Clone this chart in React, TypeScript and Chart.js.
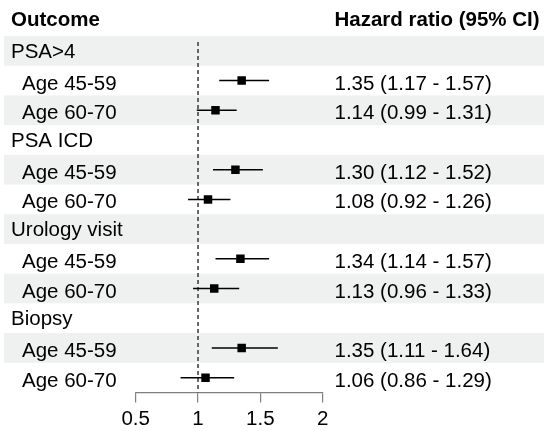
import { useEffect, useRef } from 'react';
import { Chart, registerables } from 'chart.js';
Chart.register(...registerables);

const headers = ['Outcome', 'Hazard ratio (95% CI)'];
const groups = ['PSA>4', 'PSA ICD', 'Urology visit', 'Biopsy'];
const subgroups = ['Age 45-59', 'Age 60-70'];
const hr = [1.35, 1.14, 1.30, 1.08, 1.34, 1.13, 1.35, 1.06];
const lower = [1.17, 0.99, 1.12, 0.92, 1.14, 0.96, 1.11, 0.86];
const upper = [1.57, 1.31, 1.52, 1.26, 1.57, 1.33, 1.64, 1.29];
const xTicks = [0.5, 1, 1.5, 2];
const xTickLabels = ['0.5', '1', '1.5', '2'];

const FONT = '"Liberation Sans", Arial, Helvetica, sans-serif';

type Row = { label: string; kind: 'group' | 'sub'; k: number };
const rows: Row[] = [];
groups.forEach((g, gi) => {
  rows.push({ label: g, kind: 'group', k: -1 });
  subgroups.forEach((s, si) => rows.push({ label: s, kind: 'sub', k: gi * subgroups.length + si }));
});

const fmt = (v: number) => v.toFixed(2);

const forestPlugin = {
  id: 'forest',
  beforeDraw(chart: any) {
    const { ctx, scales } = chart;
    const y = scales.y;
    ctx.save();
    ctx.fillStyle = '#eef1f0';
    rows.forEach((_, i) => {
      if (i % 2 === 0) {
        const t = y.getPixelForValue(i - 0.5);
        const b = y.getPixelForValue(i + 0.5);
        ctx.fillRect(4, t, chart.width - 4, b - t);
      }
    });
    ctx.restore();
  },
  beforeDatasetsDraw(chart: any) {
    const { ctx, scales, chartArea } = chart;
    const x = scales.x;
    const y = scales.y;
    ctx.save();
    // reference line at 1
    ctx.strokeStyle = '#444444';
    ctx.lineWidth = 1.6;
    ctx.setLineDash([4, 3]);
    const x1 = x.getPixelForValue(1);
    ctx.beginPath();
    ctx.moveTo(x1, chartArea.top + 6);
    ctx.lineTo(x1, chartArea.bottom);
    ctx.stroke();
    ctx.setLineDash([]);
    // CI lines
    ctx.strokeStyle = '#000';
    ctx.lineWidth = 1.5;
    rows.forEach((r, i) => {
      if (r.kind !== 'sub') return;
      const yy = y.getPixelForValue(i);
      ctx.beginPath();
      ctx.moveTo(x.getPixelForValue(lower[r.k]), yy);
      ctx.lineTo(x.getPixelForValue(upper[r.k]), yy);
      ctx.stroke();
    });
    ctx.restore();
  },
  afterDraw(chart: any) {
    const { ctx, scales } = chart;
    const y = scales.y;
    ctx.save();
    ctx.fillStyle = '#000';
    ctx.textBaseline = 'alphabetic';
    ctx.textAlign = 'left';
    ctx.font = `bold 20.5px ${FONT}`;
    ctx.fillText(headers[0], 11, 26);
    ctx.fillText(headers[1], 334.5, 26);
    ctx.font = `20.5px ${FONT}`;
    rows.forEach((r, i) => {
      const yy = y.getPixelForValue(i);
      if (r.kind === 'group') {
        ctx.fillText(r.label, 11, yy + 7);
      } else {
        ctx.fillText(r.label, 22, yy + 9);
        ctx.fillText(`${fmt(hr[r.k])} (${fmt(lower[r.k])} - ${fmt(upper[r.k])})`, 334.5, yy + 9);
      }
    });
    ctx.restore();
  },
};

export default function App() {
  const ref = useRef<HTMLCanvasElement | null>(null);
  useEffect(() => {
    if (!ref.current) return;
    const points = rows
      .map((r, i) => (r.kind === 'sub' ? { x: hr[r.k], y: i } : null))
      .filter((p) => p !== null);
    const chart = new Chart(ref.current, {
      type: 'scatter',
      data: {
        datasets: [
          {
            data: points as any,
            pointStyle: 'rect',
            pointRadius: 6,
            pointHoverRadius: 6,
            backgroundColor: '#000',
            borderColor: '#000',
            borderWidth: 0,
          },
        ],
      },
      options: {
        responsive: false,
        animation: false,
        events: [],
        layout: { padding: { left: 135.7, right: 221.3, top: 36, bottom: 0 } },
        plugins: { legend: { display: false }, tooltip: { enabled: false } },
        scales: {
          x: {
            type: 'linear',
            min: 0.5,
            max: 2,
            afterBuildTicks: (s: any) => {
              s.ticks = xTicks.map((v) => ({ value: v }));
            },
            afterFit: (s: any) => {
              s.height = 431 - 392.5;
            },
            ticks: {
              color: '#000',
              font: { family: FONT, size: 20.5 },
              padding: 5,
              maxRotation: 0,
              autoSkip: false,
              callback: (_v: any, i: number) => xTickLabels[i],
            },
            grid: {
              drawOnChartArea: false,
              drawTicks: true,
              tickLength: 10,
              color: '#808080',
              lineWidth: 1.2,
            },
            border: { display: true, color: '#808080', width: 1.2 },
          },
          y: {
            type: 'linear',
            min: -0.5,
            max: rows.length - 0.5,
            reverse: true,
            display: false,
          },
        },
      },
      plugins: [forestPlugin],
    });
    return () => chart.destroy();
  }, []);
  return (
    <div style={{ position: 'absolute', left: 0, top: 0, width: 544, height: 431, background: '#fff' }}>
      <canvas ref={ref} width={544} height={431} style={{ display: 'block' }} />
    </div>
  );
}
